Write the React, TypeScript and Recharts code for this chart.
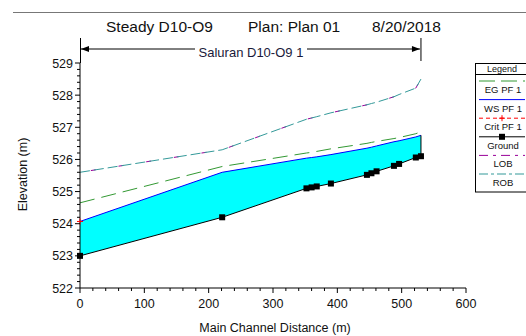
import React from 'react';
import { ComposedChart, Line, Area, XAxis, YAxis, ReferenceLine } from 'recharts';

// main channel stations (m) and profile elevations (m)
const stations = [0, 221, 352, 360, 368, 390, 446, 453, 461, 488, 496, 522, 530];
const ground = [523.0, 524.2, 525.1, 525.13, 525.16, 525.25, 525.52, 525.57, 525.63, 525.8, 525.86, 526.06, 526.1];
const wsPF1 = [524.07, 525.6, 526.04, 526.06, 526.08, 526.15, 526.35, 526.38, 526.42, 526.55, 526.58, 526.7, 526.75];
const egPF1 = [524.65, 525.78, 526.2, 526.22, 526.25, 526.33, 526.5, 526.53, 526.56, 526.65, 526.68, 526.8, 526.86];
const critPF1 = [524.07, null, null, null, null, null, null, null, null, null, null, null, null];
const lob = [525.6, 526.3, 527.25, 527.29, 527.33, 527.45, 527.7, 527.74, 527.78, 527.95, 528.02, 528.22, 528.5];
const rob = [525.6, 526.3, 527.25, 527.29, 527.33, 527.45, 527.7, 527.74, 527.78, 527.95, 528.02, 528.22, 528.5];

const xMajor = [0, 100, 200, 300, 400, 500, 600];
const yMajor = [522, 523, 524, 525, 526, 527, 528, 529];

const xTicks: number[] = [];
xMajor.forEach((v, i) => {
  if (i === 0) { xTicks.push(v); return; }
  for (let k = 1; k <= 5; k++) xTicks.push(xMajor[i - 1] + k * 20);
});
const yTicks: number[] = [];
yMajor.forEach((v, i) => {
  if (i === 0) { yTicks.push(v); return; }
  for (let k = 1; k <= 5; k++) yTicks.push(Math.round((yMajor[i - 1] + k * 0.2) * 10) / 10);
});

const data = stations.map((s, i) => ({
  station: s,
  ground: ground[i],
  ws: wsPF1[i],
  eg: egPF1[i],
  crit: critPF1[i],
  lob: lob[i],
  rob: rob[i],
  range: [ground[i], wsPF1[i]],
}));

const FONT = '"Liberation Sans", Arial, sans-serif';
const W = 526;
const H = 336;
const PLOT_LEFT = 80;
const PLOT_RIGHT = 466;
const PLOT_TOP = 63;
const PLOT_BOTTOM = 288;

const EG_DASH = '15 7';
const LOB_DASH = '5 23';
const ROB_DASH = '10 4';

const XTick = (props: any) => {
  const { x, y, payload } = props;
  const major = payload.value % 100 === 0;
  return (
    <g>
      <line x1={x} x2={x} y1={y} y2={y + (major ? 5 : 3)} stroke="#000" />
      {major && (
        <text x={x} y={y + 20} textAnchor="middle" fontSize={12.5} fontFamily={FONT} fill="#111">
          {payload.value}
        </text>
      )}
    </g>
  );
};

const YTick = (props: any) => {
  const { x, y, payload } = props;
  const major = Math.abs(payload.value - Math.round(payload.value)) < 1e-6;
  return (
    <g>
      <line x1={x} x2={x - (major ? 5 : 3)} y1={y} y2={y} stroke="#000" />
      {major && (
        <text x={x - 7} y={y + 4.5} textAnchor="end" fontSize={12.5} fontFamily={FONT} fill="#111">
          {payload.value}
        </text>
      )}
    </g>
  );
};

const GroundDot = (props: any) => {
  const { cx, cy, index } = props;
  if (cx == null || cy == null) return <g key={index} />;
  return <rect key={index} x={cx - 3} y={cy - 3} width={6} height={6} fill="#000" />;
};

const CritDot = (props: any) => {
  const { cx, cy, index, payload } = props;
  if (payload == null || payload.crit == null || cy == null) return <g key={index} />;
  return (
    <g key={index}>
      <line x1={cx - 3} x2={cx + 3} y1={cy} y2={cy} stroke="#ff0000" />
      <line x1={cx} x2={cx} y1={cy - 3} y2={cy + 3} stroke="#ff0000" />
    </g>
  );
};

const legendItems = [
  { label: 'EG  PF 1', stroke: '#339933', dash: '16 6', marker: '' },
  { label: 'WS  PF 1', stroke: '#0000ff', dash: '', marker: '' },
  { label: 'Crit  PF 1', stroke: '#ff0000', dash: '4 3', marker: 'plus' },
  { label: 'Ground', stroke: '#000000', dash: '', marker: 'square' },
  { label: 'LOB', stroke: '#990099', dash: '9 5 3 5', marker: '' },
  { label: 'ROB', stroke: '#339999', dash: '9 3 3 3', marker: '' },
];

const Overlay = () => {
  const pxPerM = (PLOT_RIGHT - PLOT_LEFT) / 600;
  const reachEnd = PLOT_LEFT + stations[stations.length - 1] * pxPerM;
  const arrowY = 49;
  return (
    <svg width={W} height={H} style={{ position: 'absolute', left: 0, top: 0, pointerEvents: 'none' }}>
      <line x1={13} x2={W} y1={12.5} y2={12.5} stroke="#777" />
      <g fontFamily={FONT} fontSize={15.5} fill="#111">
        <text x={106} y={31.5}>Steady D10-O9</text>
        <text x={248} y={31.5}>Plan: Plan 01</text>
        <text x={372} y={31.5}>8/20/2018</text>
      </g>
      {/* reach marker */}
      <line x1={PLOT_LEFT + 0.5} x2={PLOT_LEFT + 0.5} y1={38} y2={PLOT_TOP} stroke="#000" />
      <line x1={reachEnd} x2={reachEnd} y1={38} y2={61} stroke="#000" />
      <line x1={PLOT_LEFT + 1} x2={195} y1={arrowY} y2={arrowY} stroke="#000" />
      <line x1={307} x2={reachEnd - 1} y1={arrowY} y2={arrowY} stroke="#000" />
      <path d={`M${PLOT_LEFT + 1},${arrowY} l8,-3 l0,6 z`} fill="#000" />
      <path d={`M${reachEnd - 1},${arrowY} l-8,-3 l0,6 z`} fill="#000" />
      <text x={(PLOT_LEFT + reachEnd) / 2 + 0.5} y={56.5} textAnchor="middle" fontFamily={FONT} fontSize={13} fill="#1a1a3a">
        Saluran D10-O9 1
      </text>
      {/* legend */}
      <rect x={475.5} y={63.5} width={56} height={128.5} fill="#fff" stroke="#000" />
      <text x={502} y={71.5} textAnchor="middle" fontFamily={FONT} fontSize={9} fill="#111">Legend</text>
      <line x1={475.5} x2={W} y1={74.5} y2={74.5} stroke="#000" />
      {legendItems.map((it, i) => {
        const ly = 81 + i * 18.6;
        return (
          <g key={it.label}>
            <line x1={479} x2={525} y1={ly} y2={ly} stroke={it.stroke} strokeDasharray={it.dash || undefined} />
            {it.marker === 'square' && <rect x={499} y={ly - 3} width={6} height={6} fill="#000" />}
            {it.marker === 'plus' && (
              <g>
                <line x1={499} x2={505} y1={ly} y2={ly} stroke="#ff0000" />
                <line x1={502} x2={502} y1={ly - 3} y2={ly + 3} stroke="#ff0000" />
              </g>
            )}
            <text x={503} y={ly + 12} textAnchor="middle" fontFamily={FONT} fontSize={9.5} fill="#111">
              {it.label}
            </text>
          </g>
        );
      })}
      {/* axis titles */}
      <text x={275} y={332} textAnchor="middle" fontFamily={FONT} fontSize={12.5} fill="#111">
        Main Channel Distance (m)
      </text>
      <text
        transform={`translate(27, ${(PLOT_TOP + PLOT_BOTTOM) / 2 - 1}) rotate(-90)`}
        textAnchor="middle"
        fontFamily={FONT}
        fontSize={12.5}
        fill="#111"
      >
        Elevation (m)
      </text>
    </svg>
  );
};

export default function App() {
  const last = data[data.length - 1];
  return (
    <div style={{ position: 'absolute', left: 0, top: 0, width: W, height: H, background: '#fff' }}>
      <ComposedChart
        width={W}
        height={H}
        data={data}
        margin={{ top: PLOT_TOP, right: W - PLOT_RIGHT, bottom: 0, left: 0 }}
      >
        <XAxis
          type="number"
          dataKey="station"
          domain={[0, 600]}
          ticks={xTicks}
          interval={0}
          height={H - PLOT_BOTTOM}
          tickSize={0}
          tickMargin={0}
          tickLine={false}
          tick={XTick}
          axisLine={{ stroke: '#000' }}
        />
        <YAxis
          type="number"
          domain={[522, 529]}
          ticks={yTicks}
          interval={0}
          width={PLOT_LEFT}
          tickSize={0}
          tickMargin={0}
          tickLine={false}
          tick={YTick}
          axisLine={{ stroke: '#000' }}
          allowDataOverflow
        />
        <Area dataKey="range" stroke="none" fill="#00ffff" fillOpacity={1} isAnimationActive={false} />
        <Line dataKey="lob" stroke="#990099" strokeDasharray={LOB_DASH} strokeDashoffset={-11} dot={false} isAnimationActive={false} />
        <Line dataKey="rob" stroke="#339999" strokeDasharray={ROB_DASH} dot={false} isAnimationActive={false} />
        <Line dataKey="eg" stroke="#339933" strokeDasharray={EG_DASH} dot={false} isAnimationActive={false} />
        <Line dataKey="ws" stroke="#0000ff" dot={false} isAnimationActive={false} />
        <Line dataKey="ground" stroke="#000" dot={GroundDot} isAnimationActive={false} />
        <Line dataKey="crit" stroke="#ff0000" strokeDasharray="4 3" dot={CritDot} isAnimationActive={false} />
        <ReferenceLine
          segment={[{ x: last.station, y: last.ground }, { x: last.station, y: last.ws }]}
          stroke="#000"
        />
      </ComposedChart>
      <Overlay />
    </div>
  );
}
